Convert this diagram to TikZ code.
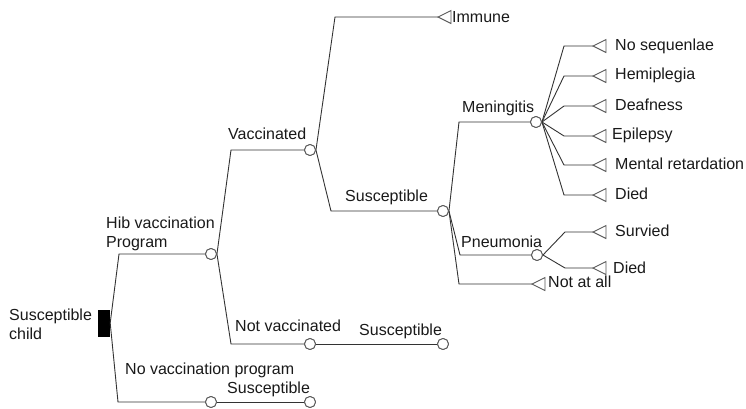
\documentclass[tikz,border=0pt]{standalone}
\usepackage{fontspec}
\setmainfont{Liberation Sans}
\begin{document}
\begin{tikzpicture}[x=1pt,y=-1pt,
  ln/.style={draw=black!80, line width=0.9pt},
  chance/.style={circle, draw=black!65, fill=white, line width=0.9pt, minimum size=11pt, inner sep=0pt},
  tri/.style={draw=black!65, fill=white, line width=0.9pt, line join=miter},
  lbl/.style={anchor=west, inner sep=0pt, text=black!90, font=\fontsize{16}{19}\selectfont, align=left}]
\useasboundingbox (0,0) rectangle (746,408);
% root
\node[fill=black, minimum width=12pt, minimum height=27pt, inner sep=0pt] (root) at (104,323) {};
% chance nodes
\node[chance] (cH) at (211,254) {};
\node[chance] (cN1) at (211,402) {};
\node[chance] (cN2) at (310,402) {};
\node[chance] (cV) at (310,150) {};
\node[chance] (cNV) at (310,344) {};
\node[chance] (cNS) at (443,344) {};
\node[chance] (cS) at (443,211) {};
\node[chance] (cM) at (536,122) {};
\node[chance] (cP) at (537,255) {};
% terminal tips
\coordinate (tImm) at (438,17);
\coordinate (tNot) at (532,284);
\coordinate (tM1) at (593,46);
\coordinate (tM2) at (593,76);
\coordinate (tM3) at (593,106);
\coordinate (tM4) at (593,136);
\coordinate (tM5) at (593,165);
\coordinate (tM6) at (593,195);
\coordinate (tP1) at (593,232);
\coordinate (tP2) at (593,268);
% connectors
\draw[ln] (root.east) -- (119,254) -- (cH);
\draw[ln] (root.east) -- (118,402) -- (cN1);
\draw[ln] (cN1) -- (cN2);
\draw[ln] (cH.east) -- (231,150) -- (cV);
\draw[ln] (cH.east) -- (231,344) -- (cNV);
\draw[ln] (cNV) -- (cNS);
\draw[ln] (cV.east) -- (335,17) -- (tImm);
\draw[ln] (cV.east) -- (331,211) -- (cS);
\draw[ln] (cS.east) -- (459,122) -- (cM);
\draw[ln] (cS.east) -- (460,255) -- (cP);
\draw[ln] (cS.east) -- (459,284) -- (tNot);
\foreach \t/\y in {tM1/46,tM2/76,tM3/106,tM4/136,tM5/165,tM6/195}
  \draw[ln] (cM.east) -- (564,\y) -- (\t);
\draw[ln] (cP.east) -- (565,232) -- (tP1);
\draw[ln] (cP.east) -- (565,268) -- (tP2);
% triangles
\foreach \t in {tImm,tNot,tM1,tM2,tM3,tM4,tM5,tM6,tP1,tP2}
  \draw[tri] (\t) -- ++(13,-6.5) -- ++(0,13) -- cycle;
% re-draw chance nodes on top
\foreach \c in {cH,cN1,cN2,cV,cNV,cNS,cS,cM,cP}
  \node[chance] at (\c) {};
% labels
\node[lbl] (lRoot) at (9,324) {Susceptible\\child};
\node[lbl] (lHib) at (106,234) {Hib vaccination\\Program};
\node[lbl] (lVac) at (228,134) {Vaccinated};
\node[lbl] (lSus1) at (345,197) {Susceptible};
\node[lbl] (lMen) at (462,108) {Meningitis};
\node[lbl] (lPne) at (461,242) {Pneumonia};
\node[lbl] (lNot) at (548,282) {Not at all};
\node[lbl] (lImm) at (452,17) {Immune};
\node[lbl] (l1) at (615,46) {No sequenlae};
\node[lbl] (l2) at (615,75) {Hemiplegia};
\node[lbl] (l3) at (615,105) {Deafness};
\node[lbl] (l4) at (612,135) {Epilepsy};
\node[lbl] (l5) at (615,164) {Mental retardation};
\node[lbl] (l6) at (615,194) {Died};
\node[lbl] (l7) at (615,231) {Survied};
\node[lbl] (l8) at (613,268) {Died};
\node[lbl] (lNV) at (235,326) {Not vaccinated};
\node[lbl] (lSus2) at (359,331) {Susceptible};
\node[lbl] (lNoP) at (125,370) {No vaccination program};
\node[lbl] (lSus3) at (227,389) {Susceptible};
\end{tikzpicture}
\end{document}
